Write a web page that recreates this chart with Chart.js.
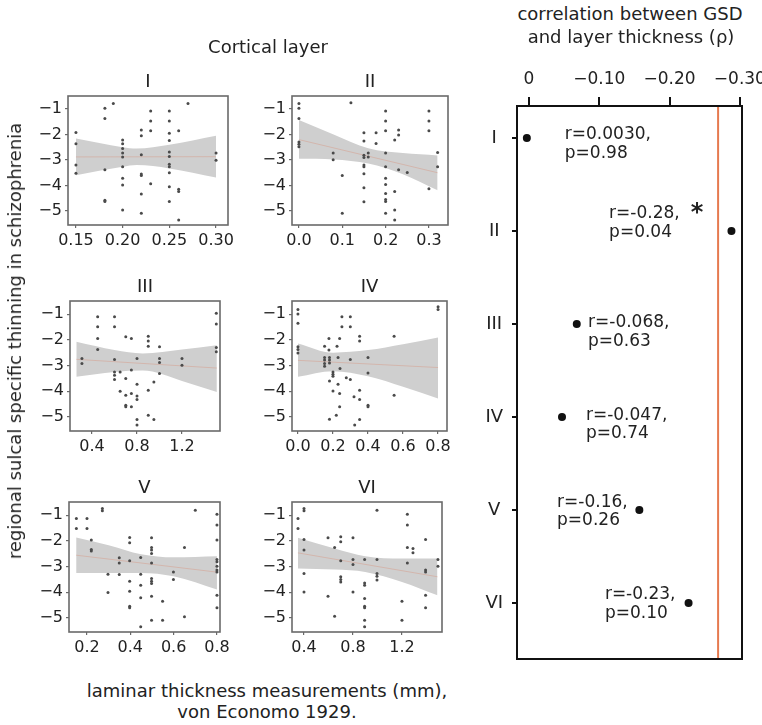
<!DOCTYPE html>
<html>
<head>
<meta charset="utf-8">
<script src="https://cdn.jsdelivr.net/npm/chart.js@4.4.1/dist/chart.umd.min.js"></script>
<style>
html, body { margin: 0; padding: 0; background: #fff; }
#wrap { position: relative; width: 762px; height: 725px; overflow: hidden; font-family: "DejaVu Sans", sans-serif; color: #222; }
#wrap canvas { position: absolute; }
.t { position: absolute; white-space: nowrap; transform: translate(-50%, -50%); line-height: 1; }
</style>
</head>
<body>
<div id="wrap"></div>
<script>
// ---- data ----
const layerNames = ["I", "II", "III", "IV", "V", "VI"];
const thinTicks = [-1, -2, -3, -4, -5];

// [laminar thickness (mm), sulcal thinning]
const pointsI = [[0.15,-1.92],[0.15,-2.36],[0.15,-3.2],[0.15,-3.52],[0.181,-0.97],[0.181,-1.37],[0.19,-0.78],[0.181,-3.38],[0.181,-4.58],[0.181,-4.63],
  [0.20,-2.22],[0.20,-2.36],[0.20,-2.55],[0.20,-2.73],[0.20,-2.88],[0.20,-3.27],[0.20,-3.72],[0.20,-3.98],[0.20,-4.96],
  [0.22,-1.82],[0.22,-2.05],[0.22,-2.79],[0.22,-3.55],[0.22,-3.61],[0.22,-4.33],[0.22,-5.09],[0.23,-1.08],[0.23,-1.47],[0.23,-1.85],[0.23,-3.93],
  [0.25,-1.08],[0.25,-1.47],[0.25,-1.95],[0.25,-2.24],[0.25,-2.69],[0.25,-2.86],[0.25,-3.17],[0.25,-3.27],[0.25,-3.5],[0.25,-4.05],[0.25,-4.63],
  [0.26,-1.85],[0.26,-4.15],[0.26,-4.24],[0.26,-5.35],[0.27,-0.78],[0.30,-2.73],[0.30,-3.01]];
const pointsII = [[0,-0.78],[0,-0.97],[0,-1.37],[0,-2.29],[0,-2.38],[0,-2.48],[0.079,-2.73],[0.079,-2.99],[0.1,-3.61],[0.1,-5.09],[0.12,-0.75],
  [0.15,-1.93],[0.15,-2.26],[0.15,-2.81],[0.15,-2.9],[0.15,-3.2],[0.15,-3.27],[0.15,-3.54],[0.15,-4.09],[0.15,-4.64],[0.16,-2.73],[0.16,-2.88],
  [0.178,-1.93],[0.178,-2.35],[0.2,-1.08],[0.2,-1.47],[0.2,-1.85],[0.2,-2.73],[0.2,-3.27],[0.2,-3.72],[0.2,-3.96],[0.2,-4.31],[0.2,-4.55],[0.2,-4.63],[0.2,-5.09],
  [0.221,-2.22],[0.221,-4.24],[0.221,-4.96],[0.221,-5.35],[0.23,-1.82],[0.23,-2.02],[0.23,-3.38],[0.25,-3.49],[0.3,-1.08],[0.3,-1.47],[0.3,-1.85],[0.3,-4.13],[0.32,-2.71],[0.32,-3.27]];
const pointsIII = [[0.31,-2.73],[0.31,-2.92],[0.45,-1.1],[0.45,-1.49],[0.45,-1.95],[0.45,-2.38],[0.6,-1.1],[0.6,-1.49],[0.6,-2.77],[0.6,-3.25],[0.6,-3.38],[0.6,-3.55],
  [0.65,-3.25],[0.65,-4.0],[0.7,-1.88],[0.7,-3.51],[0.7,-4.16],[0.7,-4.55],[0.7,-4.61],[0.75,-1.95],[0.75,-3.18],[0.75,-4.09],[0.75,-4.61],
  [0.8,-2.73],[0.8,-3.73],[0.8,-4.19],[0.8,-4.32],[0.8,-5.1],[0.8,-5.32],[0.9,-1.86],[0.9,-2.05],[0.9,-2.25],[0.9,-3.96],[0.9,-4.94],[0.95,-3.64],[0.95,-5.1],
  [1.0,-2.27],[1.0,-2.73],[1.0,-2.88],[1.0,-3.31],[1.2,-2.73],[1.2,-2.99],[1.505,-0.97],[1.505,-1.39],[1.505,-2.3],[1.505,-2.47]];
const pointsIV = [[0,-0.82],[0,-1.0],[0,-1.36],[0,-2.27],[0,-2.38],[0,-2.51],[0.152,-2.25],[0.152,-2.69],[0.152,-2.79],[0.152,-2.92],[0.152,-3.03],
  [0.177,-1.95],[0.177,-2.4],[0.18,-2.69],[0.18,-2.79],[0.18,-2.9],[0.18,-3.6],[0.18,-5.09],[0.2,-3.25],[0.2,-3.34],[0.2,-3.42],[0.2,-3.99],
  [0.219,-4.94],[0.223,-2.25],[0.229,-2.69],[0.229,-3.73],[0.238,-1.95],[0.238,-4.09],[0.238,-4.61],[0.24,-3.12],[0.251,-1.1],[0.251,-1.49],
  [0.276,-3.48],[0.299,-1.1],[0.299,-1.49],[0.299,-2.77],[0.299,-3.55],[0.32,-4.22],[0.324,-5.32],[0.352,-1.86],[0.352,-2.05],[0.352,-3.96],[0.352,-4.32],[0.352,-5.1],
  [0.4,-2.69],[0.4,-3.29],[0.4,-4.55],[0.4,-4.61],[0.549,-1.86],[0.549,-4.16],[0.8,-0.71],[0.8,-0.82]];
const pointsV = [[0.151,-1.13],[0.151,-1.52],[0.2,-1.13],[0.2,-1.52],[0.22,-1.97],[0.22,-2.34],[0.22,-2.4],[0.271,-0.74],[0.271,-0.83],[0.297,-3.3],[0.297,-4.01],
  [0.349,-2.66],[0.349,-2.86],[0.349,-3.31],[0.397,-1.87],[0.397,-2.08],[0.397,-2.78],[0.397,-3.57],[0.397,-3.96],[0.397,-4.55],[0.397,-4.61],
  [0.448,-2.65],[0.448,-3.3],[0.448,-3.73],[0.448,-4.22],[0.448,-5.35],[0.498,-1.88],[0.498,-2.26],[0.498,-2.36],[0.498,-2.49],[0.498,-2.86],[0.498,-3.47],
  [0.498,-3.57],[0.498,-3.66],[0.498,-4.16],[0.498,-5.09],[0.549,-4.35],[0.549,-5.09],[0.599,-3.21],[0.599,-3.51],[0.65,-2.26],[0.65,-4.96],[0.7,-0.81],
  [0.8,-0.97],[0.8,-1.39],[0.8,-1.97],[0.8,-2.73],[0.8,-2.82],[0.8,-2.99],[0.8,-3.14],[0.8,-3.21],[0.8,-4.12],[0.8,-4.61]];
const pointsVI = [[0.351,-1.13],[0.351,-1.52],[0.4,-0.74],[0.4,-0.83],[0.4,-1.95],[0.4,-2.36],[0.4,-3.27],[0.4,-3.99],[0.596,-1.88],[0.596,-4.16],
  [0.65,-2.26],[0.65,-4.94],[0.7,-1.84],[0.7,-2.04],[0.7,-2.78],[0.7,-3.4],[0.7,-3.51],[0.7,-3.6],[0.8,-1.88],[0.8,-2.73],[0.8,-2.92],[0.8,-3.99],
  [0.895,-2.73],[0.895,-3.64],[0.895,-3.73],[0.895,-4.25],[0.895,-4.55],[0.895,-4.61],[0.895,-5.09],[0.895,-5.35],[0.996,-0.81],[0.996,-2.73],
  [0.996,-3.27],[0.996,-3.38],[0.996,-3.53],[1.2,-4.35],[1.2,-5.09],[1.244,-0.97],[1.244,-1.39],[1.244,-2.26],[1.244,-2.86],[1.29,-2.3],[1.29,-2.47],
  [1.393,-1.95],[1.393,-3.14],[1.393,-3.21],[1.393,-4.12],[1.393,-4.61],[1.494,-2.73],[1.494,-2.99]];

// confidence band of the fit: [x, lower, upper]
const bandI = [[0.15,-3.6,-2.16],[0.20,-3.27,-2.5],[0.215,-3.2,-2.55],[0.25,-3.33,-2.4],[0.30,-3.69,-2.05]];
const bandII = [[0,-2.95,-1.43],[0.08,-2.98,-2.0],[0.16,-3.14,-2.54],[0.24,-3.56,-2.73],[0.32,-4.19,-2.82]];
const bandIII = [[0.26,-3.44,-2.08],[0.6,-3.25,-2.4],[0.85,-3.2,-2.53],[1.2,-3.6,-2.38],[1.51,-4.03,-2.21]];
const bandIV = [[0,-3.44,-2.14],[0.2,-3.22,-2.5],[0.4,-3.42,-2.4],[0.6,-3.83,-2.17],[0.8,-4.29,-1.91]];
const bandV = [[0.15,-3.25,-1.87],[0.3,-3.25,-2.17],[0.45,-3.25,-2.52],[0.6,-3.38,-2.64],[0.8,-3.9,-2.6]];
const bandVI = [[0.35,-3.08,-1.88],[0.65,-3.12,-2.3],[0.9,-3.21,-2.6],[1.2,-3.6,-2.69],[1.49,-4.12,-2.69]];

// fitted line end points
const fitI = [[0.15,-2.88],[0.30,-2.87]];
const fitII = [[0,-2.2],[0.32,-3.5]];
const fitIII = [[0.26,-2.76],[1.51,-3.1]];
const fitIV = [[0,-2.8],[0.8,-3.08]];
const fitV = [[0.15,-2.56],[0.8,-3.22]];
const fitVI = [[0.35,-2.47],[1.49,-3.4]];

const xTicksI = [0.15, 0.20, 0.25, 0.30];
const xTicksII = [0, 0.1, 0.2, 0.3];
const xTicksIII = [0.4, 0.8, 1.2];
const xTicksIV = [0, 0.2, 0.4, 0.6, 0.8];
const xTicksV = [0.2, 0.4, 0.6, 0.8];
const xTicksVI = [0.4, 0.8, 1.2];

// right panel
const rho = [0.003, -0.288, -0.068, -0.047, -0.157, -0.227];
const rTexts = ["r=0.0030,", "r=-0.28,", "r=-0.068,", "r=-0.047,", "r=-0.16,", "r=-0.23,"];
const pTexts = ["p=0.98", "p=0.04", "p=0.63", "p=0.74", "p=0.26", "p=0.10"];
const significant = [false, true, false, false, false, false];
const rhoThreshold = -0.269;
const rhoTicks = [0, -0.10, -0.20, -0.30];

// ---- layout ----
const FONT = "'DejaVu Sans', sans-serif";
const INK = "#222";
Chart.defaults.font.family = FONT;
Chart.defaults.color = INK;

const wrap = document.getElementById("wrap");
const minus = s => String(s).replace("-", "\u2212");

function addText(txt, x, y, size, rotate) {
  const d = document.createElement("div");
  d.className = "t";
  d.textContent = txt;
  d.style.left = x + "px";
  d.style.top = y + "px";
  d.style.fontSize = size + "px";
  if (rotate) d.style.transform = "translate(-50%,-50%) rotate(-90deg)";
  wrap.appendChild(d);
}

const framePlugin = {
  id: "frame",
  afterDatasetsDraw(chart, args, opts) {
    const a = chart.chartArea, ctx = chart.ctx;
    ctx.save();
    ctx.strokeStyle = opts.color;
    ctx.lineWidth = opts.width;
    ctx.strokeRect(a.left, a.top, a.right - a.left, a.bottom - a.top);
    ctx.restore();
  },
};

function newCanvas(left, top, w, h) {
  const c = document.createElement("canvas");
  c.width = w; c.height = h;
  c.style.left = left + "px"; c.style.top = top + "px";
  c.style.width = w + "px"; c.style.height = h + "px";
  wrap.appendChild(c);
  return c;
}

const panels = [
  { name: "I",   pts: pointsI,   band: bandI,   fit: fitI,   xTicks: xTicksI,   dec: 2, xr: [0.1415, 0.3128], frame: [68, 96, 228, 225] },
  { name: "II",  pts: pointsII,  band: bandII,  fit: fitII,  xTicks: xTicksII,  dec: 1, xr: [-0.016, 0.344],  frame: [292, 96, 448, 225] },
  { name: "III", pts: pointsIII, band: bandIII, fit: fitIII, xTicks: xTicksIII, dec: 1, xr: [0.204, 1.538],   frame: [70, 301, 220, 431] },
  { name: "IV",  pts: pointsIV,  band: bandIV,  fit: fitIV,  xTicks: xTicksIV,  dec: 1, xr: [-0.034, 0.851],  frame: [292, 301, 447, 431] },
  { name: "V",   pts: pointsV,   band: bandV,   fit: fitV,   xTicks: xTicksV,   dec: 1, xr: [0.117, 0.814],   frame: [69, 502, 220, 632] },
  { name: "VI",  pts: pointsVI,  band: bandVI,  fit: fitVI,  xTicks: xTicksVI,  dec: 1, xr: [0.302, 1.527],   frame: [292, 502, 442, 632] },
];

function makePanel(p) {
  const [L, T, R, B] = p.frame;
  // generous right/top margins so tick labels never force the plot area to shrink
  const padL = 60, padT = 20, padR = 30, padB = 32;
  const c = newCanvas(L - padL, T - padT, R - L + padL + padR, B - T + padT + padB);
  const xy = arr => arr.map(([x, y]) => ({ x, y }));
  new Chart(c, {
    type: "scatter",
    data: {
      datasets: [
        { data: xy(p.pts), pointRadius: 1.5, pointBackgroundColor: "#4a4a4a", pointBorderWidth: 0, order: 0 },
        { data: xy(p.fit), showLine: true, borderColor: "rgba(215,150,130,0.45)", borderWidth: 1, pointRadius: 0, order: 1 },
        { data: p.band.map(b => ({ x: b[0], y: b[1] })), showLine: true, borderColor: "rgba(0,0,0,0)", borderWidth: 0,
          pointRadius: 0, cubicInterpolationMode: "monotone", order: 3 },
        { data: p.band.map(b => ({ x: b[0], y: b[2] })), showLine: true, borderColor: "rgba(0,0,0,0)", borderWidth: 0,
          pointRadius: 0, cubicInterpolationMode: "monotone", fill: "-1", backgroundColor: "#cfcfcf", order: 2 },
      ],
    },
    options: {
      responsive: false, animation: false, devicePixelRatio: 1, events: [],
      layout: { autoPadding: false, padding: { left: 0, top: padT, right: padR, bottom: 0 } },
      plugins: { legend: { display: false }, tooltip: { enabled: false }, frame: { color: "#6a6a6a", width: 1.6 } },
      scales: {
        x: {
          type: "linear", min: p.xr[0], max: p.xr[1],
          afterFit: s => { s.height = padB; },
          afterBuildTicks: s => { s.ticks = p.xTicks.map(v => ({ value: v })); },
          ticks: { callback: v => v.toFixed(p.dec), font: { size: 16 }, color: INK, padding: 3, maxRotation: 0, autoSkip: false },
          grid: { drawOnChartArea: false, tickLength: 3, color: "#6a6a6a", lineWidth: 1.2 },
          border: { display: false },
        },
        y: {
          type: "linear", min: -5.55, max: -0.49,
          afterFit: s => { s.width = padL; },
          afterBuildTicks: s => { s.ticks = thinTicks.map(v => ({ value: v })); },
          ticks: { callback: v => minus(v), font: { size: 16 }, color: INK, padding: 3, autoSkip: false },
          grid: { drawOnChartArea: false, tickLength: 3, color: "#6a6a6a", lineWidth: 1.2 },
          border: { display: false },
        },
      },
    },
    plugins: [framePlugin],
  });
  addText(p.name, (L + R) / 2, T - 15, 18);
}

panels.forEach(makePanel);

// r / p notes next to each dot, anchored in data units [rho, row]
const noteAnchor = [[-0.051, 0.968], [-0.114, 1.817], [-0.084, 2.99], [-0.081, 3.98], [-0.040, 4.92], [-0.108, 5.91]];

const notePlugin = {
  id: "notes",
  afterDatasetsDraw(chart) {
    const ctx = chart.ctx, xs = chart.scales.x, ys = chart.scales.y;
    ctx.save();
    ctx.fillStyle = INK;
    ctx.textAlign = "left";
    ctx.textBaseline = "middle";
    noteAnchor.forEach(([ax, ay], i) => {
      const x = xs.getPixelForValue(ax), y = ys.getPixelForValue(ay);
      ctx.font = "17px " + FONT;
      ctx.fillText(rTexts[i], x, y);
      ctx.fillText(pTexts[i], x, y + 18.5);
      if (significant[i]) {
        const w = ctx.measureText(rTexts[i]).width;
        ctx.font = "bold 24px " + FONT;
        ctx.textBaseline = "alphabetic";
        ctx.fillText("*", x + w + 11, y + 6);
        ctx.textBaseline = "middle";
      }
    });
    ctx.restore();
  },
};

function makeRhoPanel() {
  const L = 517, T = 106, R = 742, B = 659;
  const padL = 60, padT = 45, padR = 40, padB = 30;
  const c = newCanvas(L - padL, T - padT, R - L + padL + padR, B - T + padT + padB);
  const yMin = 0.656, yMax = 6.602;
  new Chart(c, {
    type: "scatter",
    data: {
      datasets: [
        { data: rho.map((r, i) => ({ x: r, y: i + 1 })), pointRadius: 4, pointBackgroundColor: "#111", pointBorderWidth: 0, order: 0 },
        { data: [{ x: rhoThreshold, y: yMin }, { x: rhoThreshold, y: yMax }], showLine: true, borderColor: "#e67a50",
          borderWidth: 2, pointRadius: 0, order: 1 },
      ],
    },
    options: {
      responsive: false, animation: false, devicePixelRatio: 1, events: [],
      layout: { autoPadding: false, padding: { left: 0, top: 0, right: padR, bottom: padB } },
      plugins: { legend: { display: false }, tooltip: { enabled: false }, frame: { color: "#111", width: 2 } },
      scales: {
        x: {
          type: "linear", position: "top", reverse: true, min: -0.303, max: 0.017,
          afterFit: s => { s.height = padT; },
          afterBuildTicks: s => { s.ticks = rhoTicks.map(v => ({ value: v })); },
          ticks: { callback: v => (v === 0 ? "0" : "\u2212" + Math.abs(v).toFixed(2)), font: { size: 17 }, color: INK,
                   padding: 7, maxRotation: 0, autoSkip: false },
          grid: { drawOnChartArea: false, tickLength: 9, color: "#111", lineWidth: 2 },
          border: { display: false },
        },
        y: {
          type: "linear", reverse: true, min: yMin, max: yMax,
          afterFit: s => { s.width = padL; },
          afterBuildTicks: s => { s.ticks = layerNames.map((n, i) => ({ value: i + 1 })); },
          ticks: { callback: v => layerNames[v - 1], font: { size: 18 }, color: INK, padding: 9, crossAlign: "center", autoSkip: false },
          grid: { drawOnChartArea: false, tickLength: 5, color: "#111", lineWidth: 2 },
          border: { display: false },
        },
      },
    },
    plugins: [framePlugin, notePlugin],
  });
}

makeRhoPanel();

addText("Cortical layer", 268, 47, 18);
addText("regional sulcal specific thinning in schizophrenia", 15, 341, 18, true);
addText("laminar thickness measurements (mm),", 267, 691, 18);
addText("von Economo 1929.", 267, 712, 18);
addText("correlation between GSD", 630, 14, 18);
addText("and layer thickness (\u03c1)", 631, 37, 18);
</script>
</body>
</html>
